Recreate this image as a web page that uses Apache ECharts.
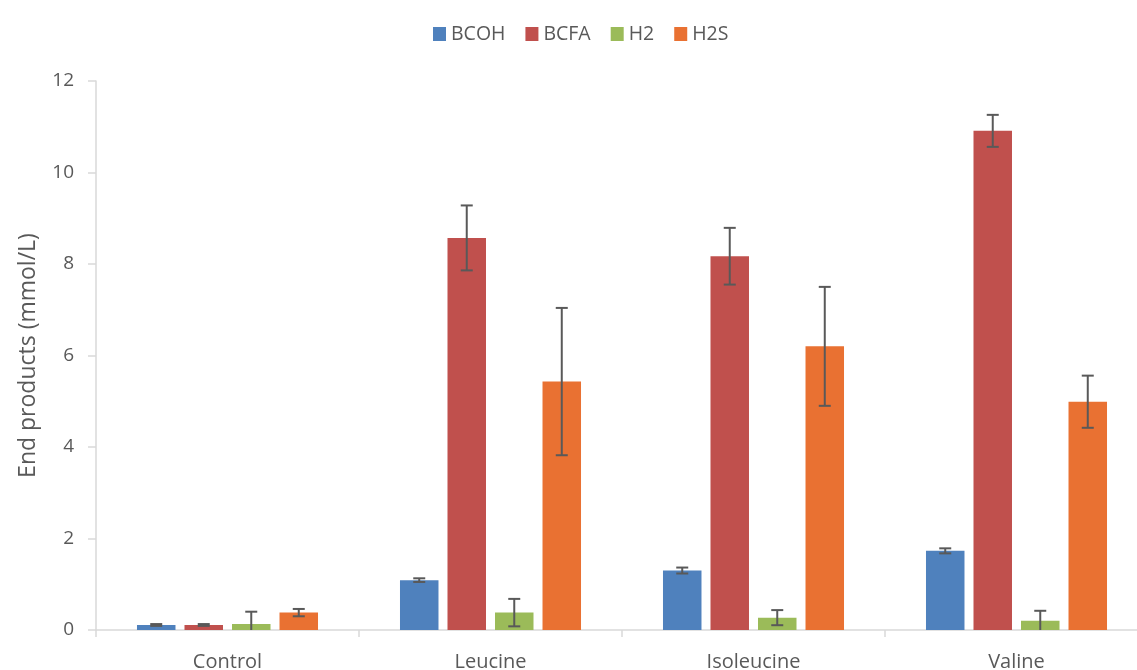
<!DOCTYPE html>
<html>
<head>
<meta charset="utf-8">
<script src="https://cdn.jsdelivr.net/npm/echarts@6/dist/echarts.min.js"></script>
<style>
  html, body { margin: 0; padding: 0; background: #fff; }
  #chart { width: 1137px; height: 670px; }
</style>
</head>
<body>
<div id="chart"></div>
<script>
// Amino-acid fermentation end products (mean ± error)
const categories = ['Control', 'Leucine', 'Isoleucine', 'Valine'];
const seriesNames = ['BCOH', 'BCFA', 'H2', 'H2S'];

const bcoh    = [0.11, 1.09, 1.30, 1.73];
const bcohErr = [0.02, 0.04, 0.065, 0.055];
const bcfa    = [0.11, 8.57, 8.17, 10.91];
const bcfaErr = [0.02, 0.71, 0.62, 0.35];
const h2      = [0.13, 0.38, 0.27, 0.20];
const h2Err   = [0.27, 0.30, 0.165, 0.22];
const h2s     = [0.38, 5.43, 6.20, 4.99];
const h2sErr  = [0.08, 1.61, 1.30, 0.57];

const yTicks = [0, 2, 4, 6, 8, 10, 12];

const colors = ['#4F81BD', '#C0504D', '#9BBB59', '#E97132'];
const values = [bcoh, bcfa, h2, h2s];
const errors = [bcohErr, bcfaErr, h2Err, h2sErr];

// bar geometry
const BAR_W = 38.5;
const BAR_GAP = 0.234;
const PITCH = BAR_W * (1 + BAR_GAP);
const FONT = '"Open Sans", "Noto Sans", sans-serif';
const TEXT = '#595959';

function errorSeries(k) {
  const offset = (k - (values.length - 1) / 2) * PITCH;
  const data = values[k].map((v, i) => [i, Math.max(0, v - errors[k][i]), v + errors[k][i], v - errors[k][i] < 0 ? 1 : 0]);
  return {
    type: 'custom',
    name: seriesNames[k] + ' error',
    z: 5,
    silent: true,
    data: data,
    encode: { x: 0, y: [1, 2] },
    renderItem: function (params, api) {
      const idx = api.value(0);
      const x = api.coord([idx, 0])[0] + offset;
      const yLow = api.coord([idx, api.value(1)])[1];
      const yHigh = api.coord([idx, api.value(2)])[1];
      const clipped = api.value(3) === 1;
      const cap = 6;
      const style = { stroke: '#595959', lineWidth: 2 };
      const children = [
        { type: 'line', shape: { x1: x, y1: yHigh, x2: x, y2: yLow }, style: style },
        { type: 'line', shape: { x1: x - cap, y1: yHigh, x2: x + cap, y2: yHigh }, style: style }
      ];
      if (!clipped) {
        children.push({ type: 'line', shape: { x1: x - cap, y1: yLow, x2: x + cap, y2: yLow }, style: style });
      }
      return { type: 'group', children: children };
    }
  };
}

const barSeries = seriesNames.map((name, k) => ({
  type: 'bar',
  name: name,
  data: values[k],
  barWidth: BAR_W,
  barGap: (BAR_GAP * 100) + '%',
  itemStyle: { color: colors[k] },
  z: 2
}));

const chart = echarts.init(document.getElementById('chart'), null, { renderer: 'canvas' });
chart.setOption({
  animation: false,
  backgroundColor: '#ffffff',
  color: colors,
  legend: {
    data: seriesNames,
    top: 19,
    left: 428,
    itemWidth: 13,
    itemHeight: 14,
    itemGap: 20,
    icon: 'rect',
    textStyle: { fontFamily: FONT, fontSize: 19.5, color: TEXT }
  },
  // the plot runs a little past the right edge of the canvas
  grid: { left: 96, top: 81, width: 1052, bottom: 40, containLabel: false, outerBoundsMode: 'none' },
  xAxis: {
    type: 'category',
    data: categories,
    axisLine: { lineStyle: { color: '#D9D9D9', width: 1.5 } },
    axisTick: { show: true, length: 7, lineStyle: { color: '#D9D9D9', width: 1.5 } },
    axisLabel: { fontFamily: FONT, fontSize: 20, color: TEXT, margin: 22 }
  },
  yAxis: {
    type: 'value',
    min: yTicks[0],
    max: yTicks[yTicks.length - 1],
    interval: 2,
    name: 'End products (mmol/L)',
    nameLocation: 'middle',
    nameGap: 56,
    nameTextStyle: { fontFamily: FONT, fontSize: 23, color: TEXT },
    axisLine: { show: true, lineStyle: { color: '#D9D9D9', width: 1.5 } },
    axisTick: { show: true, length: 8, lineStyle: { color: '#D9D9D9', width: 1.5 } },
    axisLabel: { fontFamily: FONT, fontSize: 19, color: TEXT, margin: 22 },
    splitLine: { show: false }
  },
  series: barSeries.concat(seriesNames.map((_, k) => errorSeries(k)))
});
</script>
</body>
</html>
